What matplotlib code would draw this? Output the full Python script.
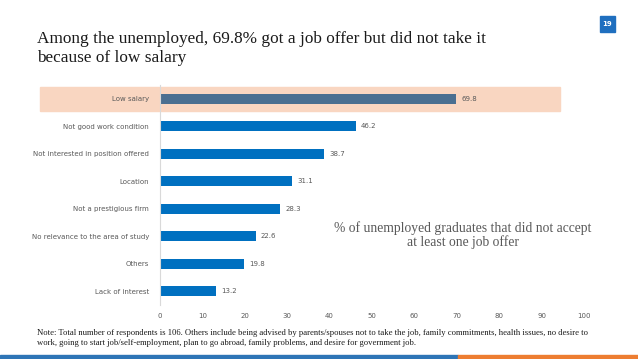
import matplotlib.pyplot as plt
import matplotlib.patches as mpatches

reasons = ['Low salary', 'Not good work condition', 'Not interested in position offered',
           'Location', 'Not a prestigious firm', 'No relevance to the area of study',
           'Others', 'Lack of interest']
values = [69.8, 46.2, 38.7, 31.1, 28.3, 22.6, 19.8, 13.2]
xticks = [0, 10, 20, 30, 40, 50, 60, 70, 80, 90, 100]

fig = plt.figure(figsize=(6.38, 3.59), dpi=100)
ax = fig.add_axes([160/638, 1-305/359, 424/638, 220/359])

ypos = list(range(len(values)))[::-1]
colors = ['#4a6f91'] + ['#0070c0'] * (len(values) - 1)

# highlight band behind the first row
band = mpatches.Rectangle((40/638, 1-111/359), 520/638, 24/359, transform=fig.transFigure,
                          color='#f9d6c1', zorder=-1)
fig.patches.append(band)

ax.barh(ypos, values, height=0.38, color=colors, zorder=2)
for y, v in zip(ypos, values):
    ax.text(v + 1.2, y, f'{v:.1f}', va='center', ha='left', fontsize=5, color='#595959')

ax.set_xlim(0, 100)
ax.set_ylim(-0.5, 7.5)
ax.set_xticks(xticks)
ax.set_yticks(ypos)
ax.set_yticklabels(reasons)
ax.tick_params(axis='both', length=0, labelsize=5, labelcolor='#595959')
ax.tick_params(axis='y', pad=8)
ax.tick_params(axis='x', pad=6)
ax.patch.set_alpha(0)
for s in ['top', 'right', 'bottom']:
    ax.spines[s].set_visible(False)
ax.spines['left'].set_color('#d9d9d9')
ax.spines['left'].set_linewidth(0.8)

fig.text(37/638, 1-48.5/359, 'Among the unemployed, 69.8% got a job offer but did not take it\nbecause of low salary',
         family='Liberation Serif', fontsize=12.4, va='center', ha='left', linespacing=1.22, color='#1a1a1a')

fig.text(463/638, 1-235/359, '% of unemployed graduates that did not accept\nat least one job offer',
         family='Liberation Serif', fontsize=9.8, ha='center', va='center', color='#595959', linespacing=1.05)

fig.text(37/638, 1-338/359, 'Note: Total number of respondents is 106. Others include being advised by parents/spouses not to take the job, family commitments, health issues, no desire to\nwork, going to start job/self-employment, plan to go abroad, family problems, and desire for government job.',
         family='Liberation Serif', fontsize=6.2, ha='left', va='center', color='#1a1a1a', linespacing=1.2)

# page number box
fig.patches.append(mpatches.Rectangle((600/638, 1-32/359), 15/638, 16/359, transform=fig.transFigure,
                                      color='#1f6fbf'))
fig.text(607.5/638, 1-24/359, '19', color='white', fontsize=5, fontweight='bold', ha='center', va='center')

# bottom stripe
fig.patches.append(mpatches.Rectangle((0, 0), 458/638, 4/359, transform=fig.transFigure, color='#2e75b6'))
fig.patches.append(mpatches.Rectangle((458/638, 0), 180/638, 4/359, transform=fig.transFigure, color='#ed7d31'))

fig.savefig('out.png', dpi=100)
